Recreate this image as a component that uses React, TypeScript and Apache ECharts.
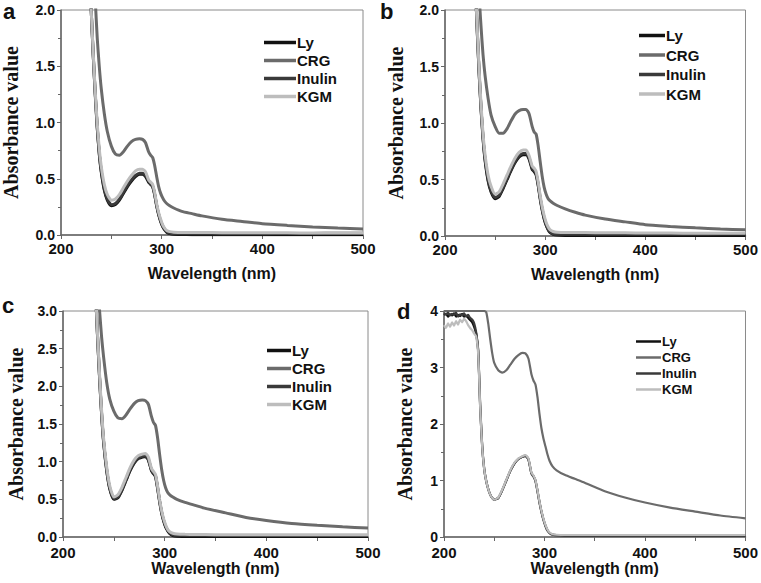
import React, { useEffect, useRef } from "react";
import * as echarts from "echarts";

// ---------- data ----------
const SERIES_NAMES = ["Ly", "CRG", "Inulin", "KGM"];
const SERIES_COLORS = ["#111111", "#6b6b6b", "#3a3a3a", "#bdbdbd"];
const PANEL_LETTERS = ["a", "b", "c", "d"];

const X_MIN = 200;
const X_MAX = 500;
const X_STEP = 100;

// wavelengths (nm) for panels a, b, c
const WL_ABC = [
  226, 228, 230, 232, 234, 236, 238, 240, 243, 246,
  250, 254, 258, 262, 266, 270, 274, 278, 281, 284,
  287, 289, 291, 293, 295, 297, 299, 301, 303, 305,
  308, 312, 320, 330, 340, 360, 380, 400, 425, 450,
  475, 500,
];

const LY_A = [
  3.0, 2.5, 2.0, 1.6, 1.25, 0.95, 0.72, 0.56, 0.40, 0.31,
  0.26, 0.27, 0.31, 0.37, 0.43, 0.48, 0.52, 0.54, 0.54, 0.52,
  0.47, 0.45, 0.43, 0.36, 0.26, 0.18, 0.12, 0.075, 0.045, 0.025,
  0.012, 0.006, 0.004, 0.003, 0.003, 0.003, 0.003, 0.002, 0.002, 0.002,
  0.002, 0.002,
];
const CRG_A = [
  4.0, 3.6, 3.0, 2.6, 2.1, 1.75, 1.5, 1.3, 1.08, 0.92,
  0.79, 0.72, 0.71, 0.74, 0.79, 0.83, 0.85, 0.855, 0.85, 0.82,
  0.74, 0.71, 0.69, 0.62, 0.52, 0.43, 0.37, 0.33, 0.30, 0.28,
  0.26, 0.24, 0.21, 0.19, 0.17, 0.14, 0.12, 0.10, 0.085, 0.072,
  0.062, 0.053,
];
const INULIN_A = [
  3.0, 2.5, 2.0, 1.6, 1.26, 0.96, 0.73, 0.57, 0.41, 0.32,
  0.27, 0.28, 0.32, 0.38, 0.44, 0.49, 0.53, 0.55, 0.55, 0.53,
  0.48, 0.455, 0.435, 0.365, 0.265, 0.185, 0.125, 0.08, 0.05, 0.03,
  0.018, 0.013, 0.012, 0.012, 0.012, 0.012, 0.012, 0.012, 0.013, 0.014,
  0.015, 0.015,
];
const KGM_A = [
  3.0, 2.5, 2.0, 1.62, 1.28, 0.99, 0.77, 0.61, 0.45, 0.36,
  0.31, 0.32, 0.36, 0.42, 0.48, 0.53, 0.57, 0.585, 0.585, 0.56,
  0.49, 0.47, 0.45, 0.38, 0.28, 0.2, 0.14, 0.09, 0.06, 0.04,
  0.03, 0.025, 0.022, 0.022, 0.022, 0.021, 0.02, 0.02, 0.019, 0.018,
  0.018, 0.018,
];

const LY_B = [
  3.4, 2.8, 2.3, 1.85, 1.45, 1.12, 0.86, 0.67, 0.49, 0.39,
  0.33, 0.35, 0.42, 0.50, 0.58, 0.65, 0.70, 0.72, 0.72, 0.68,
  0.59, 0.57, 0.54, 0.45, 0.33, 0.23, 0.15, 0.095, 0.055, 0.03,
  0.015, 0.008, 0.005, 0.005, 0.005, 0.005, 0.005, 0.005, 0.005, 0.005,
  0.005, 0.005,
];
const CRG_B = [
  4.2, 3.8, 3.2, 2.7, 2.15, 1.85, 1.6, 1.42, 1.22, 1.07,
  0.97, 0.91, 0.91, 0.95, 1.02, 1.08, 1.11, 1.12, 1.12, 1.08,
  0.97, 0.92, 0.90, 0.80, 0.66, 0.53, 0.43, 0.37, 0.33, 0.31,
  0.29, 0.27, 0.24, 0.21, 0.185, 0.15, 0.125, 0.10, 0.085, 0.072,
  0.062, 0.055,
];
const INULIN_B = [
  3.4, 2.8, 2.3, 1.86, 1.46, 1.13, 0.87, 0.68, 0.5, 0.4,
  0.34, 0.36, 0.43, 0.51, 0.59, 0.66, 0.71, 0.73, 0.73, 0.69,
  0.6, 0.58, 0.55, 0.46, 0.34, 0.24, 0.16, 0.1, 0.06, 0.035,
  0.02, 0.015, 0.015, 0.015, 0.015, 0.015, 0.015, 0.015, 0.016, 0.016,
  0.017, 0.017,
];
const KGM_B = [
  3.4, 2.8, 2.3, 1.88, 1.49, 1.16, 0.9, 0.72, 0.54, 0.44,
  0.37, 0.39, 0.46, 0.54, 0.62, 0.69, 0.74, 0.76, 0.76, 0.71,
  0.62, 0.6, 0.57, 0.48, 0.36, 0.26, 0.18, 0.12, 0.08, 0.055,
  0.04, 0.033, 0.03, 0.03, 0.03, 0.029, 0.028, 0.027, 0.026, 0.025,
  0.025, 0.025,
];

const LY_C = [
  5.0, 4.4, 3.8, 3.25, 2.65, 2.1, 1.62, 1.25, 0.88, 0.64,
  0.50, 0.52, 0.62, 0.75, 0.88, 0.98, 1.04, 1.06, 1.07, 1.02,
  0.88, 0.84, 0.80, 0.65, 0.47, 0.32, 0.21, 0.13, 0.08, 0.045,
  0.02, 0.01, 0.008, 0.008, 0.008, 0.008, 0.008, 0.008, 0.008, 0.008,
  0.008, 0.008,
];
const CRG_C = [
  5.5, 4.8, 4.3, 3.9, 3.4, 3.0, 2.65, 2.38, 2.05, 1.83,
  1.67, 1.58, 1.57, 1.62, 1.70, 1.77, 1.81, 1.82, 1.81, 1.76,
  1.60, 1.52, 1.48, 1.32, 1.10, 0.90, 0.75, 0.65, 0.59, 0.56,
  0.53, 0.50, 0.46, 0.42, 0.38, 0.32, 0.26, 0.22, 0.18, 0.155,
  0.135, 0.12,
];
const INULIN_C = [
  5.0, 4.4, 3.8, 3.26, 2.66, 2.11, 1.63, 1.26, 0.89, 0.65,
  0.51, 0.53, 0.63, 0.76, 0.89, 0.99, 1.05, 1.07, 1.08, 1.03,
  0.89, 0.85, 0.81, 0.66, 0.48, 0.33, 0.22, 0.14, 0.09, 0.055,
  0.03, 0.022, 0.02, 0.02, 0.02, 0.02, 0.02, 0.02, 0.02, 0.02,
  0.02, 0.02,
];
const KGM_C = [
  5.0, 4.4, 3.8, 3.28, 2.69, 2.15, 1.67, 1.3, 0.93, 0.68,
  0.53, 0.56, 0.66, 0.79, 0.92, 1.02, 1.08, 1.10, 1.11, 1.06,
  0.91, 0.87, 0.83, 0.68, 0.50, 0.35, 0.24, 0.16, 0.10, 0.07,
  0.05, 0.04, 0.035, 0.033, 0.032, 0.03, 0.03, 0.03, 0.03, 0.03,
  0.03, 0.03,
];

// wavelengths (nm) for panel d
const WL_D = [
  200, 202, 204, 206, 208, 210, 212, 214, 216, 218,
  220, 222, 224, 226, 228, 230, 232, 234, 236, 238,
  240, 242, 244, 246, 248, 250,
  254, 258, 262, 266, 270, 274, 278, 281, 284,
  287, 289, 291, 293, 295, 297, 299, 301, 303, 305,
  308, 312, 320, 330, 340, 360, 380, 400, 425, 450, 475, 500,
];
const LY_D = [
  3.93, 3.95, 3.9, 3.94, 3.92, 3.96, 3.9, 3.93, 3.91, 3.95,
  3.9, 3.92, 3.88, 3.84, 3.8, 3.72, 3.6, 3.3, 2.3, 1.6,
  1.2, 0.99, 0.85, 0.75, 0.69, 0.66,
  0.69, 0.83, 1.0, 1.17, 1.30, 1.38, 1.42, 1.44, 1.38,
  1.13, 1.08, 1.0, 0.82, 0.62, 0.45, 0.31, 0.20, 0.12, 0.075,
  0.045, 0.035, 0.03, 0.03, 0.03, 0.03, 0.03, 0.03, 0.03, 0.03, 0.03, 0.03,
];
const CRG_D = [
  4.0, 4.0, 4.0, 4.0, 4.0, 4.0, 4.0, 4.0, 4.0, 4.0,
  4.0, 4.0, 4.0, 4.0, 4.0, 4.0, 4.0, 4.0, 4.0, 4.0,
  4.0, 3.98, 3.78, 3.5, 3.25, 3.08,
  2.95, 2.91, 2.95, 3.05, 3.15, 3.22, 3.26, 3.25, 3.16,
  2.88, 2.77, 2.70, 2.48, 2.18, 1.92, 1.74, 1.60, 1.46, 1.35,
  1.25, 1.18, 1.10, 1.03, 0.96, 0.81, 0.70, 0.61, 0.52, 0.45, 0.38, 0.33,
];
const INULIN_D = [
  3.96, 3.94, 3.97, 3.92, 3.95, 3.93, 3.97, 3.9, 3.94, 3.92,
  3.96, 3.9, 3.93, 3.88, 3.85, 3.78, 3.62, 3.3, 2.35, 1.62,
  1.21, 0.99, 0.85, 0.75, 0.69, 0.66,
  0.69, 0.83, 1.0, 1.17, 1.30, 1.38, 1.42, 1.43, 1.37,
  1.12, 1.07, 0.99, 0.81, 0.61, 0.44, 0.30, 0.19, 0.11, 0.07,
  0.04, 0.03, 0.03, 0.03, 0.03, 0.03, 0.03, 0.03, 0.03, 0.03, 0.03, 0.03,
];
const KGM_D = [
  3.75, 3.7, 3.78, 3.72, 3.8, 3.74, 3.82, 3.76, 3.85, 3.8,
  3.86, 3.82, 3.75, 3.7, 3.66, 3.6, 3.55, 3.25, 2.3, 1.6,
  1.2, 0.99, 0.85, 0.75, 0.69, 0.66,
  0.70, 0.84, 1.01, 1.18, 1.31, 1.39, 1.43, 1.45, 1.39,
  1.14, 1.09, 1.01, 0.83, 0.63, 0.46, 0.32, 0.21, 0.13, 0.08,
  0.05, 0.04, 0.035, 0.035, 0.035, 0.035, 0.035, 0.035, 0.035, 0.035, 0.035, 0.035,
];

// y-axis ranges per panel
const Y_MAX = [2, 2, 3, 4];
const Y_STEP = [0.5, 0.5, 0.5, 1];
const Y_DECIMALS = [1, 1, 1, 0];

const PANEL_WL = [WL_ABC, WL_ABC, WL_ABC, WL_D];
const PANEL_SERIES = [
  [LY_A, CRG_A, INULIN_A, KGM_A],
  [LY_B, CRG_B, INULIN_B, KGM_B],
  [LY_C, CRG_C, INULIN_C, KGM_C],
  [LY_D, CRG_D, INULIN_D, KGM_D],
];

// ---------- layout ----------
const LAYOUT = [
  { grid: { left: 59, top: 10, width: 304, height: 225 }, letter: { left: 3, top: 0 }, legend: { left: 264, top: 35, itemWidth: 32, itemHeight: 3.5, gap: 3, font: 15 }, yNameGap: 40, xLabelMargin: 7, xNameGap: 30, lw: 3 },
  { grid: { left: 445, top: 10, width: 303, height: 226 }, letter: { left: 380, top: 0 }, legend: { left: 639, top: 28, itemWidth: 26, itemHeight: 3.5, gap: 4.5, font: 15 }, yNameGap: 39, xLabelMargin: 7, xNameGap: 30, lw: 3 },
  { grid: { left: 63, top: 311, width: 305, height: 226 }, letter: { left: 2, top: 294 }, legend: { left: 267, top: 343, itemWidth: 24, itemHeight: 3.5, gap: 3, font: 15 }, yNameGap: 37, xLabelMargin: 9, xNameGap: 17, lw: 3 },
  { grid: { left: 444, top: 311, width: 304, height: 226 }, letter: { left: 397, top: 300 }, legend: { left: 636, top: 335, itemWidth: 25, itemHeight: 2.5, gap: 3, font: 13 }, yNameGap: 29, xLabelMargin: 9, xNameGap: 17, lw: 2.2 },
];

const SANS = "'Liberation Sans', Arial, sans-serif";
const SERIF = "'Liberation Serif', 'Times New Roman', serif";

export default function App() {
  const ref = useRef<HTMLDivElement>(null);

  useEffect(() => {
    document.body.style.margin = "0";
    if (!ref.current) return;
    const chart = echarts.init(ref.current, undefined, { renderer: "svg" });

    const grids: any[] = [];
    const xAxes: any[] = [];
    const yAxes: any[] = [];
    const series: any[] = [];
    const titles: any[] = [];
    const legends: any[] = [];

    LAYOUT.forEach((L, p) => {
      grids.push({
        ...L.grid,
        show: true,
        borderColor: "#8a8a8a",
        borderWidth: 1,
        backgroundColor: "transparent",
      });
      xAxes.push({
        type: "value",
        gridIndex: p,
        min: X_MIN,
        max: X_MAX,
        interval: X_STEP,
        name: "Wavelength (nm)",
        nameLocation: "middle",
        nameGap: L.xNameGap,
        nameTextStyle: { fontFamily: SANS, fontWeight: "bold", fontSize: 16, color: "#111", verticalAlign: "top", lineHeight: 16 },
        axisLine: { show: true, onZero: false, lineStyle: { color: "#666", width: 1.5 } },
        axisTick: { show: true, length: 4, lineStyle: { color: "#666" } },
        minorTick: { show: true, splitNumber: 2, length: 4, lineStyle: { color: "#666" } },
        splitLine: { show: false },
        axisLabel: { fontFamily: SANS, fontWeight: "bold", fontSize: 15, lineHeight: 12, color: "#111", margin: L.xLabelMargin },
      });
      yAxes.push({
        type: "value",
        gridIndex: p,
        min: 0,
        max: Y_MAX[p],
        interval: Y_STEP[p],
        name: "Absorbance value",
        nameLocation: "middle",
        nameRotate: 90,
        nameGap: L.yNameGap,
        nameTextStyle: { fontFamily: SERIF, fontWeight: "bold", fontSize: 20, color: "#111" },
        axisLine: { show: true, onZero: false, lineStyle: { color: "#666", width: 1.5 } },
        axisTick: { show: true, length: 4, lineStyle: { color: "#666" } },
        minorTick: { show: true, splitNumber: 2, length: 3, lineStyle: { color: "#666" } },
        splitLine: { show: false },
        axisLabel: {
          fontFamily: SANS,
          fontWeight: "bold",
          fontSize: 14,
          lineHeight: 10,
          color: "#111",
          margin: 6,
          formatter: (v: number) => v.toFixed(Y_DECIMALS[p]),
        },
      });
      titles.push({
        text: PANEL_LETTERS[p],
        left: L.letter.left,
        top: L.letter.top,
        padding: 0,
        textStyle: { fontFamily: SANS, fontWeight: "bold", fontSize: 22, color: "#111" },
      });
      legends.push({
        data: SERIES_NAMES.map((n) => ({ name: n, icon: "rect" })),
        orient: "vertical",
        left: L.legend.left,
        top: L.legend.top,
        padding: 0,
        itemWidth: L.legend.itemWidth,
        itemHeight: L.legend.itemHeight,
        itemGap: L.legend.gap,
        selectedMode: false,
        textStyle: { fontFamily: SANS, fontWeight: "bold", fontSize: L.legend.font, color: "#111", padding: [0, 0, 0, -4] },
      });
      const wl = PANEL_WL[p];
      PANEL_SERIES[p].forEach((vals, s) => {
        series.push({
          type: "line",
          name: SERIES_NAMES[s],
          xAxisIndex: p,
          yAxisIndex: p,
          data: wl.map((w, i) => [w, vals[i]]),
          showSymbol: false,
          symbol: "none",
          smooth: 0.2,
          clip: true,
          color: SERIES_COLORS[s],
          itemStyle: { color: SERIES_COLORS[s] },
          lineStyle: { color: SERIES_COLORS[s], width: L.lw },
          emphasis: { disabled: true },
        });
      });
    });

    chart.setOption({
      animation: false,
      backgroundColor: "#ffffff",
      title: titles,
      legend: legends,
      grid: grids,
      xAxis: xAxes,
      yAxis: yAxes,
      series,
    });

    return () => chart.dispose();
  }, []);

  return <div ref={ref} style={{ width: 761, height: 583 }} />;
}
